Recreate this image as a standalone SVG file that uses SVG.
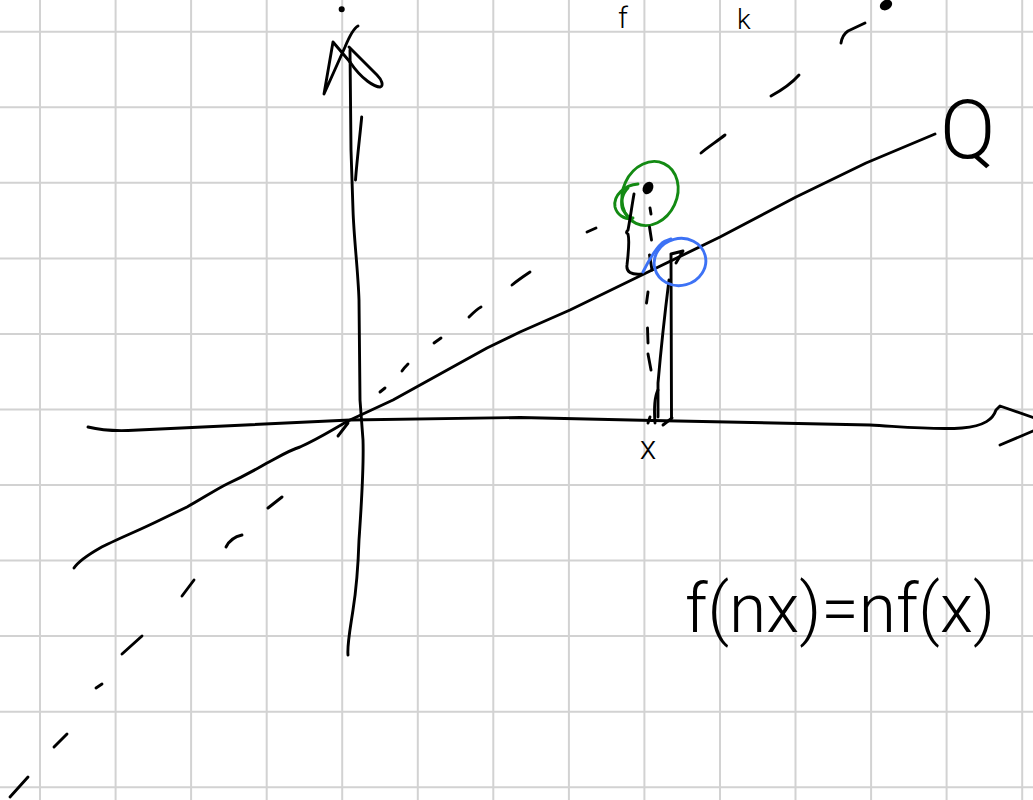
<svg xmlns="http://www.w3.org/2000/svg" width="1033" height="800" viewBox="0 0 1033 800">
<style>
.grid line{stroke:#d2d2d2;stroke-width:2}
.ink{fill:none;stroke:#000;stroke-width:2.9;stroke-linecap:round;stroke-linejoin:round}
.green{fill:none;stroke:#138a13;stroke-width:2.9;stroke-linecap:round}
.blue{fill:none;stroke:#3d72f5;stroke-width:2.9;stroke-linecap:round}
.hw{font-family:Roboto,"DejaVu Sans","Liberation Sans",sans-serif;font-weight:300;fill:#000}
</style>
<rect width="1033" height="800" fill="#fff"/>
<g id="grid" class="grid">
<line x1="40" y1="0" x2="40" y2="800"/><line x1="115.6" y1="0" x2="115.6" y2="800"/><line x1="191.1" y1="0" x2="191.1" y2="800"/><line x1="266.7" y1="0" x2="266.7" y2="800"/><line x1="342.2" y1="0" x2="342.2" y2="800"/><line x1="417.8" y1="0" x2="417.8" y2="800"/><line x1="493.3" y1="0" x2="493.3" y2="800"/><line x1="568.9" y1="0" x2="568.9" y2="800"/><line x1="644.4" y1="0" x2="644.4" y2="800"/><line x1="720" y1="0" x2="720" y2="800"/><line x1="795.5" y1="0" x2="795.5" y2="800"/><line x1="871.1" y1="0" x2="871.1" y2="800"/><line x1="946.6" y1="0" x2="946.6" y2="800"/><line x1="1022.2" y1="0" x2="1022.2" y2="800"/>
<line x1="0" y1="31.7" x2="1033" y2="31.7"/><line x1="0" y1="107.3" x2="1033" y2="107.3"/><line x1="0" y1="182.8" x2="1033" y2="182.8"/><line x1="0" y1="258.4" x2="1033" y2="258.4"/><line x1="0" y1="333.9" x2="1033" y2="333.9"/><line x1="0" y1="409.5" x2="1033" y2="409.5"/><line x1="0" y1="485" x2="1033" y2="485"/><line x1="0" y1="560.6" x2="1033" y2="560.6"/><line x1="0" y1="636.1" x2="1033" y2="636.1"/><line x1="0" y1="711.7" x2="1033" y2="711.7"/><line x1="0" y1="787.2" x2="1033" y2="787.2"/>
</g>
<g id="axes" class="ink">
<path d="M88,427 C100,430 112,431 128,430.5 L350,420 L520,417.5 L653,420.5 L870,425 C905,427 935,430 962,428 C985,426 993,419 996,410 L1000,406 L1033,417.5"/>
<path d="M1000,445 L1026,434 L1033,431"/>
<path d="M348,655 C347,645 350,630 353,610 C357,585 358,570 359,540 C361,510 364,470 363,440 L360,400 L359,300 C358,270 354,240 353,210 L351,150 L350,50"/>
<path d="M358,26 C354,28 350,35 345,47 L324,94 L333,42 L350,62"/>
<path d="M349,47 L377,75 C382,80 384,86 380,87 C375,87 362,80 350,62"/>
<path d="M361.7,117 C360,135 357,160 355.5,180"/>
<circle cx="341.7" cy="9.3" r="1.6" fill="#000"/>
</g>
<g id="line-solid" class="ink">
<path d="M74,568 C78,562 86,556 100,548 C115,540 140,530 160,520 L187,507 C200,500 215,490 227,484 C240,478 255,470 267,463 C280,456 290,450 300,447 C320,438 335,428 350,420 L393,400 L487,348 L520,332 L570,310 L646,273 L720,237 L796,197 L866,163 L935,134"/>
<path d="M338,436 L348,423"/>
</g>
<g id="line-dashed" class="ink">
<path d="M10,797 L28,777"/><path d="M54,747 L67,734"/><path d="M96,688 L102,684"/><path d="M122,654 L142,636"/><path d="M182,596 L194,580"/><path d="M226,547 C229,541 233,537 242,535"/><path d="M268,508 L282,497"/>
<path d="M380,392 L385,388"/><path d="M402,371 C404,368 406,366 408,364"/><path d="M434,343 L441,338"/><path d="M469,317 C473,313 477,309 481,307"/><path d="M512,285 C518,280 524,276 530,272"/><path d="M587,232 L596,228"/><path d="M701,153 C708,147 716,142 725,135"/><path d="M771,96 C782,90 792,83 799,75"/><path d="M841,43 C842,37 845,33 848,31 L865,23"/>
<ellipse cx="886" cy="5" rx="5" ry="3.5" transform="rotate(-30 886 5)" fill="#000"/>
</g>
<g id="point-green">
<ellipse class="green" cx="650" cy="193.5" rx="27" ry="33" transform="rotate(25 650 193.5)"/>
<path class="green" d="M638,184 C625,185 613,195 615,207 C617,215 624,219 632,219"/>
<path class="green" d="M628,188 C622,194 620,204 623,210 C626,215 630,218 633,218"/>
<ellipse cx="648" cy="188" rx="5" ry="6.5" transform="rotate(30 648 188)" fill="#000"/>
<path class="ink" d="M634,194 C632,205 630,220 628,230 C626,232 626,233 628,234 C630,242 628,255 627,265 C626,272 631,275 642,274"/>
</g>
<g id="dropline-dashed" class="ink">
<path d="M650,208 L651,214"/><path d="M649.5,227 L651.5,240"/><path d="M649.5,255 L652,270"/><path d="M648,292 L646.5,303"/><path d="M647.5,328 L648,343"/><path d="M648,354 L651,370"/><path d="M658,390 C654,398 654,410 655,423"/><path d="M648,423 L650,417"/>
</g>
<g id="point-blue">
<path class="ink" d="M671,255 L671.5,418"/>
<path class="ink" d="M669,280 C664,320 660,360 658,383 L658,417"/>
<path class="ink" d="M671,254 L683,251 L676,263"/>
<path class="ink" d="M663,425 L672,418"/>
<ellipse class="blue" cx="680" cy="262" rx="26" ry="23.5" transform="rotate(-15 680 262)"/>
<path class="blue" d="M643,272 C648,262 654,250 662,243 C665,241 668,240 671,239"/>
</g>
<g id="labels">
<text class="hw" x="648" y="459" font-size="34" text-anchor="middle">x</text>
<text class="hw" x="940" y="158" font-size="82">Q</text>
<text class="hw" x="685" y="632" font-size="68" textLength="310" lengthAdjust="spacingAndGlyphs">f(nx)=nf(x)</text>
<text class="hw" x="618" y="28" font-size="30">f</text>
<text class="hw" x="737" y="29" font-size="28">k</text>
</g>
</svg>
